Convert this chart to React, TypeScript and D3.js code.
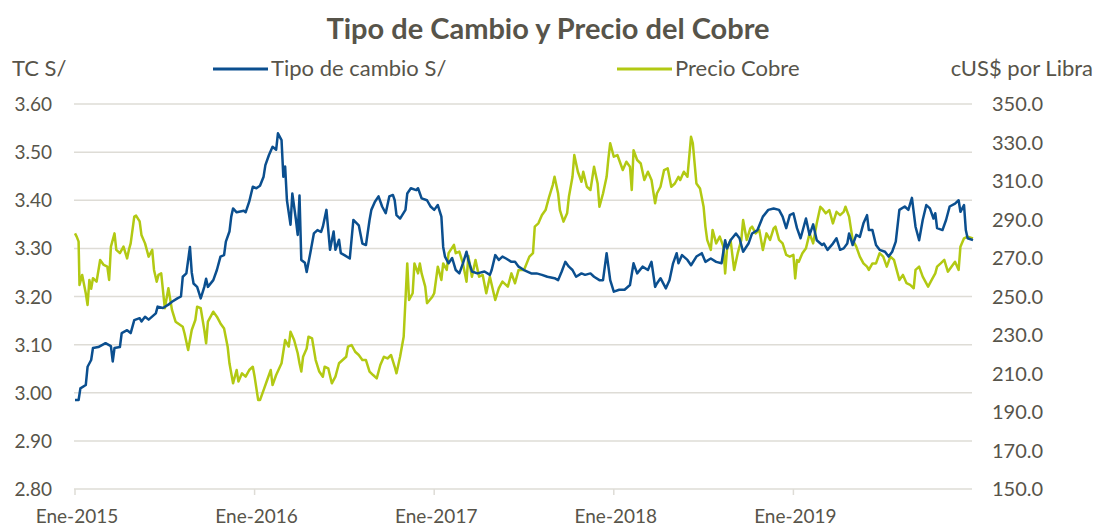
import React from 'react';
import * as d3 from 'd3';

// fecha en años decimales, valor
const tipoCambio: [number, number][] = [
  [2015.00, 2.985], [2015.02, 2.985], [2015.03, 3.009], [2015.06, 3.016], [2015.07, 3.054], [2015.09, 3.068],
  [2015.10, 3.093], [2015.13, 3.095], [2015.17, 3.103], [2015.20, 3.097], [2015.21, 3.065], [2015.22, 3.093],
  [2015.25, 3.095], [2015.26, 3.124], [2015.29, 3.130], [2015.31, 3.124], [2015.33, 3.151], [2015.36, 3.155],
  [2015.37, 3.148], [2015.39, 3.158], [2015.41, 3.152], [2015.45, 3.165], [2015.46, 3.179], [2015.49, 3.176],
  [2015.52, 3.183], [2015.54, 3.189], [2015.57, 3.196], [2015.59, 3.200], [2015.60, 3.241], [2015.62, 3.248],
  [2015.64, 3.303], [2015.65, 3.250], [2015.66, 3.227], [2015.68, 3.220], [2015.70, 3.196], [2015.72, 3.220],
  [2015.73, 3.237], [2015.74, 3.220], [2015.77, 3.234], [2015.79, 3.255], [2015.81, 3.283], [2015.83, 3.286],
  [2015.84, 3.314], [2015.86, 3.335], [2015.87, 3.366], [2015.88, 3.383], [2015.90, 3.375], [2015.94, 3.378],
  [2015.95, 3.375], [2015.97, 3.397], [2015.99, 3.428], [2016.01, 3.425], [2016.03, 3.430], [2016.05, 3.449],
  [2016.06, 3.473], [2016.08, 3.494], [2016.10, 3.511], [2016.12, 3.505], [2016.13, 3.539], [2016.15, 3.525],
  [2016.16, 3.449], [2016.17, 3.470], [2016.18, 3.400], [2016.20, 3.349], [2016.21, 3.414], [2016.23, 3.360],
  [2016.24, 3.328], [2016.25, 3.410], [2016.26, 3.276], [2016.28, 3.270], [2016.29, 3.251], [2016.31, 3.290],
  [2016.33, 3.331], [2016.35, 3.338], [2016.37, 3.334], [2016.38, 3.345], [2016.40, 3.380], [2016.42, 3.297],
  [2016.44, 3.335], [2016.45, 3.297], [2016.47, 3.318], [2016.48, 3.290], [2016.50, 3.286], [2016.53, 3.279],
  [2016.55, 3.359], [2016.58, 3.348], [2016.60, 3.310], [2016.62, 3.307], [2016.64, 3.359], [2016.65, 3.380],
  [2016.67, 3.397], [2016.69, 3.408], [2016.71, 3.387], [2016.73, 3.373], [2016.75, 3.408], [2016.77, 3.411],
  [2016.78, 3.400], [2016.79, 3.369], [2016.81, 3.362], [2016.84, 3.380], [2016.85, 3.414], [2016.87, 3.425],
  [2016.90, 3.421], [2016.91, 3.425], [2016.93, 3.404], [2016.96, 3.400], [2016.98, 3.387], [2017.00, 3.380],
  [2017.02, 3.390], [2017.04, 3.366], [2017.05, 3.303], [2017.06, 3.283], [2017.08, 3.269], [2017.10, 3.280],
  [2017.12, 3.255], [2017.14, 3.248], [2017.16, 3.269], [2017.18, 3.293], [2017.19, 3.276], [2017.21, 3.252],
  [2017.24, 3.248], [2017.28, 3.252], [2017.31, 3.245], [2017.32, 3.255], [2017.34, 3.286], [2017.36, 3.276],
  [2017.38, 3.283], [2017.40, 3.279], [2017.43, 3.272], [2017.45, 3.272], [2017.47, 3.262], [2017.50, 3.255],
  [2017.54, 3.248], [2017.57, 3.248], [2017.60, 3.245], [2017.63, 3.241], [2017.67, 3.238], [2017.69, 3.234],
  [2017.71, 3.252], [2017.73, 3.272], [2017.75, 3.262], [2017.77, 3.255], [2017.79, 3.241], [2017.82, 3.248],
  [2017.84, 3.245], [2017.87, 3.248], [2017.89, 3.241], [2017.92, 3.234], [2017.94, 3.234], [2017.96, 3.290],
  [2017.97, 3.262], [2017.98, 3.234], [2018.00, 3.210], [2018.03, 3.214], [2018.06, 3.214], [2018.09, 3.224],
  [2018.11, 3.269], [2018.13, 3.248], [2018.16, 3.262], [2018.19, 3.255], [2018.21, 3.272], [2018.23, 3.220],
  [2018.24, 3.227], [2018.26, 3.238], [2018.29, 3.217], [2018.31, 3.234], [2018.33, 3.269], [2018.35, 3.290],
  [2018.36, 3.269], [2018.38, 3.286], [2018.41, 3.276], [2018.43, 3.265], [2018.46, 3.283], [2018.49, 3.290],
  [2018.51, 3.272], [2018.54, 3.279], [2018.57, 3.272], [2018.60, 3.269], [2018.62, 3.317], [2018.63, 3.300],
  [2018.65, 3.317], [2018.68, 3.331], [2018.70, 3.321], [2018.72, 3.293], [2018.75, 3.310], [2018.77, 3.331],
  [2018.80, 3.338], [2018.83, 3.366], [2018.86, 3.380], [2018.89, 3.383], [2018.92, 3.380], [2018.94, 3.366],
  [2018.96, 3.342], [2018.98, 3.369], [2019.00, 3.373], [2019.02, 3.342], [2019.04, 3.321], [2019.07, 3.362],
  [2019.09, 3.328], [2019.11, 3.350], [2019.13, 3.317], [2019.16, 3.307], [2019.17, 3.310], [2019.19, 3.297],
  [2019.22, 3.310], [2019.24, 3.321], [2019.26, 3.297], [2019.28, 3.300], [2019.30, 3.310], [2019.31, 3.331],
  [2019.33, 3.307], [2019.35, 3.328], [2019.37, 3.324], [2019.39, 3.352], [2019.41, 3.369], [2019.42, 3.338],
  [2019.44, 3.338], [2019.46, 3.307], [2019.48, 3.297], [2019.51, 3.293], [2019.53, 3.283], [2019.55, 3.293],
  [2019.57, 3.314], [2019.59, 3.380], [2019.62, 3.387], [2019.64, 3.380], [2019.66, 3.405], [2019.68, 3.345],
  [2019.70, 3.317], [2019.72, 3.359], [2019.74, 3.390], [2019.76, 3.383], [2019.78, 3.362], [2019.79, 3.373],
  [2019.80, 3.342], [2019.83, 3.338], [2019.85, 3.359], [2019.87, 3.387], [2019.90, 3.393], [2019.92, 3.400],
  [2019.93, 3.376], [2019.95, 3.390], [2019.96, 3.338], [2019.97, 3.321], [2020.00, 3.317],
];

const precioCobre: [number, number][] = [
  [2015.00, 282.8], [2015.01, 281.0], [2015.02, 278.5], [2015.025, 256.0], [2015.04, 261.2], [2015.06, 251.7],
  [2015.07, 245.6], [2015.08, 258.6], [2015.09, 254.0], [2015.10, 259.5], [2015.12, 257.7], [2015.14, 269.0],
  [2015.16, 266.4], [2015.18, 265.5], [2015.19, 258.6], [2015.20, 275.9], [2015.22, 282.8], [2015.23, 274.2],
  [2015.25, 272.5], [2015.27, 275.9], [2015.29, 269.8], [2015.30, 274.2], [2015.31, 277.6], [2015.33, 291.5],
  [2015.34, 292.0], [2015.36, 289.0], [2015.37, 282.0], [2015.39, 277.6], [2015.41, 270.7], [2015.43, 274.2],
  [2015.44, 263.8], [2015.455, 257.7], [2015.465, 261.2], [2015.48, 262.0], [2015.50, 243.9], [2015.52, 254.3],
  [2015.54, 243.0], [2015.56, 236.9], [2015.60, 234.3], [2015.61, 230.8], [2015.63, 222.2], [2015.65, 232.6],
  [2015.67, 237.8], [2015.68, 244.7], [2015.70, 243.9], [2015.72, 232.6], [2015.73, 225.7], [2015.74, 237.0],
  [2015.77, 242.1], [2015.79, 239.5], [2015.81, 236.0], [2015.83, 233.4], [2015.85, 223.9], [2015.86, 215.3],
  [2015.88, 204.9], [2015.90, 211.8], [2015.91, 205.8], [2015.93, 210.1], [2015.95, 208.4], [2015.97, 211.8],
  [2015.99, 213.5], [2016.00, 208.4], [2016.02, 196.2], [2016.03, 196.2], [2016.05, 201.4], [2016.07, 206.6],
  [2016.09, 211.8], [2016.10, 204.0], [2016.12, 209.2], [2016.15, 215.3], [2016.17, 227.4], [2016.19, 224.0],
  [2016.20, 231.7], [2016.22, 227.4], [2016.24, 220.5], [2016.25, 215.3], [2016.26, 211.0], [2016.27, 218.7],
  [2016.29, 223.0], [2016.30, 229.1], [2016.32, 228.2], [2016.34, 217.0], [2016.36, 211.0], [2016.38, 208.3],
  [2016.39, 213.5], [2016.41, 212.7], [2016.43, 204.9], [2016.45, 208.4], [2016.47, 215.3], [2016.49, 217.0],
  [2016.51, 218.7], [2016.52, 223.9], [2016.54, 224.8], [2016.56, 221.3], [2016.58, 219.6], [2016.60, 217.0],
  [2016.62, 217.0], [2016.64, 211.0], [2016.66, 209.2], [2016.68, 207.5], [2016.70, 214.4], [2016.72, 218.7],
  [2016.74, 217.8], [2016.76, 219.6], [2016.78, 213.5], [2016.79, 210.1], [2016.81, 218.7], [2016.83, 229.1],
  [2016.84, 248.2], [2016.85, 267.2], [2016.86, 248.2], [2016.88, 251.7], [2016.89, 267.2], [2016.91, 262.0],
  [2016.92, 267.2], [2016.93, 262.0], [2016.95, 255.1], [2016.96, 246.5], [2016.99, 249.9], [2017.00, 251.7],
  [2017.02, 265.5], [2017.04, 258.6], [2017.05, 267.2], [2017.07, 263.8], [2017.08, 272.5], [2017.11, 276.8],
  [2017.12, 272.5], [2017.14, 273.3], [2017.16, 267.2], [2017.18, 257.7], [2017.19, 271.0], [2017.21, 260.3],
  [2017.23, 269.0], [2017.25, 260.3], [2017.27, 261.2], [2017.29, 251.7], [2017.31, 260.3], [2017.34, 248.2],
  [2017.36, 254.3], [2017.38, 257.7], [2017.41, 255.1], [2017.43, 262.0], [2017.45, 256.9], [2017.47, 263.8],
  [2017.50, 263.8], [2017.53, 270.7], [2017.55, 272.5], [2017.56, 286.3], [2017.58, 288.0], [2017.60, 292.3],
  [2017.62, 294.9], [2017.64, 301.8], [2017.66, 307.9], [2017.67, 312.2], [2017.69, 303.5], [2017.70, 294.9],
  [2017.72, 288.9], [2017.74, 293.2], [2017.75, 301.8], [2017.77, 312.2], [2017.78, 323.5], [2017.80, 314.8],
  [2017.82, 309.6], [2017.83, 314.8], [2017.85, 307.0], [2017.87, 305.3], [2017.89, 317.4], [2017.91, 308.7],
  [2017.92, 296.6], [2017.94, 303.5], [2017.96, 312.2], [2017.97, 321.7], [2017.98, 329.6], [2018.00, 322.6],
  [2018.02, 323.5], [2018.04, 318.3], [2018.05, 315.7], [2018.07, 320.0], [2018.09, 317.4], [2018.10, 305.3],
  [2018.11, 326.0], [2018.13, 320.9], [2018.15, 319.1], [2018.17, 310.5], [2018.19, 314.8], [2018.21, 310.5],
  [2018.23, 298.4], [2018.24, 303.5], [2018.26, 307.0], [2018.28, 315.7], [2018.30, 316.6], [2018.32, 307.0],
  [2018.34, 308.7], [2018.36, 312.2], [2018.37, 310.5], [2018.39, 314.8], [2018.41, 312.2], [2018.43, 333.0],
  [2018.44, 329.6], [2018.46, 308.7], [2018.48, 306.1], [2018.50, 296.6], [2018.51, 286.3], [2018.52, 279.4],
  [2018.54, 274.2], [2018.55, 284.6], [2018.57, 277.6], [2018.59, 281.1], [2018.61, 275.9], [2018.62, 262.0],
  [2018.63, 274.2], [2018.65, 279.4], [2018.67, 263.8], [2018.69, 272.5], [2018.71, 279.4], [2018.72, 289.7],
  [2018.74, 279.4], [2018.76, 285.4], [2018.77, 286.3], [2018.79, 282.8], [2018.81, 284.6], [2018.83, 274.2],
  [2018.85, 282.8], [2018.87, 279.4], [2018.89, 285.4], [2018.90, 286.3], [2018.92, 279.4], [2018.94, 277.6],
  [2018.96, 271.6], [2018.98, 270.7], [2019.00, 271.6], [2019.01, 259.4], [2019.02, 268.9], [2019.03, 268.0],
  [2019.05, 272.5], [2019.07, 275.1], [2019.09, 282.8], [2019.11, 277.6], [2019.13, 288.0], [2019.15, 296.6],
  [2019.16, 295.7], [2019.18, 293.2], [2019.20, 294.9], [2019.22, 288.0], [2019.24, 294.0], [2019.26, 292.3],
  [2019.28, 294.0], [2019.29, 296.6], [2019.31, 291.5], [2019.33, 279.4], [2019.35, 275.9], [2019.37, 270.7],
  [2019.39, 267.2], [2019.41, 265.5], [2019.42, 263.8], [2019.44, 267.2], [2019.46, 267.2], [2019.48, 272.5],
  [2019.50, 270.7], [2019.52, 265.5], [2019.54, 270.7], [2019.56, 269.0], [2019.57, 265.5], [2019.59, 258.6],
  [2019.61, 261.2], [2019.63, 256.9], [2019.65, 256.0], [2019.67, 254.3], [2019.68, 263.8], [2019.70, 265.5],
  [2019.72, 260.3], [2019.75, 255.1], [2019.77, 258.6], [2019.79, 262.0], [2019.80, 265.5], [2019.82, 267.2],
  [2019.84, 269.0], [2019.86, 262.9], [2019.88, 265.5], [2019.90, 268.0], [2019.92, 263.8], [2019.93, 275.9],
  [2019.95, 280.2], [2019.97, 281.1], [2020.00, 280.2],
];

const leftTicks = [2.8, 2.9, 3.0, 3.1, 3.2, 3.3, 3.4, 3.5, 3.6];
const rightTicks = [150, 170, 190, 210, 230, 250, 270, 290, 310, 330, 350];
const yearTicks = [2015, 2016, 2017, 2018, 2019];

const App = () => {
  const width = 1097;
  const height = 529;
  const margin = { top: 104, bottom: 40, left: 75, right: 125 };
  const plotBottom = height - margin.bottom;
  const plotRight = width - margin.right;
  const textColor = '#57544a';
  const blue = '#0b4f8f';
  const green = '#b2c913';
  const font = 'Lato, "Open Sans", sans-serif';

  const xScale = d3.scaleLinear().domain([2015, 2020]).range([margin.left, plotRight + 1]);
  const yLeft = d3.scaleLinear().domain([2.8, 3.6]).range([plotBottom, margin.top]);
  const yRight = d3.scaleLinear().domain([150, 350]).range([plotBottom, margin.top]);

  const tcLine = d3.line<[number, number]>().x(d => xScale(d[0])).y(d => yLeft(d[1]));
  const cobreLine = d3.line<[number, number]>().x(d => xScale(d[0])).y(d => yRight(d[1]));

  return (
    <svg width={width} height={height} style={{ position: 'absolute', left: 0, top: 0, background: '#fff' }} fontFamily={font}>
      <text x={548} y={39} textAnchor='middle' fontSize={29} fontWeight='bold' fill={textColor}>Tipo de Cambio y Precio del Cobre</text>
      <text x={12} y={76} fontSize={22} fill={textColor}>TC S/</text>
      <text x={1093} y={76} textAnchor='end' fontSize={22} fill={textColor}>cUS$ por Libra</text>

      <line x1={213} x2={268} y1={69} y2={69} stroke={blue} strokeWidth={3} />
      <text x={271} y={76} fontSize={22} fill={textColor}>Tipo de cambio S/</text>
      <line x1={617} x2={672} y1={69} y2={69} stroke={green} strokeWidth={3} />
      <text x={675} y={76} fontSize={22} fill={textColor}>Precio Cobre</text>

      {leftTicks.map(t =>
        <line key={`g-${t}`} x1={margin.left - 1} x2={plotRight} y1={yLeft(t)} y2={yLeft(t)} stroke='#dedcd6' strokeWidth={1.5} />
      )}
      {yearTicks.map(t =>
        <line key={`xt-${t}`} x1={xScale(t)} x2={xScale(t)} y1={plotBottom} y2={plotBottom + 6} stroke='#dedcd6' strokeWidth={1.5} />
      )}
      {leftTicks.map(t =>
        <text key={`l-${t}`} x={52} y={yLeft(t) + 7} textAnchor='end' fontSize={19} fill={textColor}>{t.toFixed(2)}</text>
      )}
      {rightTicks.map(t =>
        <text key={`r-${t}`} x={992} y={yRight(t) + 7} fontSize={20} fill={textColor}>{t.toFixed(1)}</text>
      )}
      {yearTicks.map(t =>
        <text key={`x-${t}`} x={xScale(t) + 2} y={523} textAnchor='middle' fontSize={19} fill={textColor}>{`Ene-${t}`}</text>
      )}

      <path d={cobreLine(precioCobre) || ''} fill='none' stroke={green} strokeWidth={2.5} strokeLinejoin='round' />
      <path d={tcLine(tipoCambio) || ''} fill='none' stroke={blue} strokeWidth={2.5} strokeLinejoin='round' />
    </svg>
  );
};

export default App;
